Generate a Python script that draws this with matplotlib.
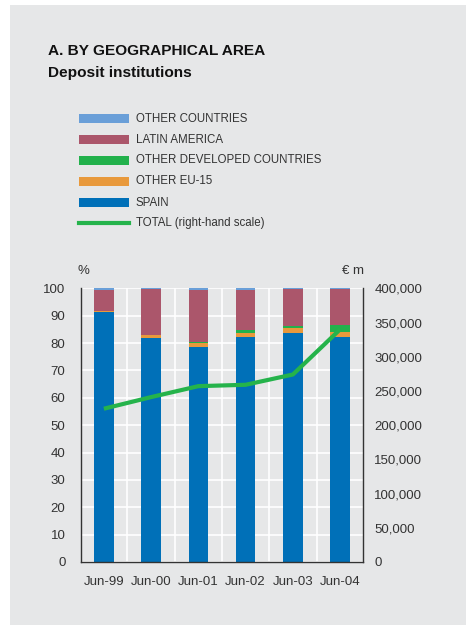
import matplotlib.pyplot as plt
from matplotlib.patches import Rectangle
from matplotlib.lines import Line2D
import numpy as np

plt.rcParams['font.family'] = ['Liberation Sans', 'DejaVu Sans']

periods = ['Jun-99', 'Jun-00', 'Jun-01', 'Jun-02', 'Jun-03', 'Jun-04']
spain = [91.3, 81.9, 78.5, 82.1, 83.6, 82.1]
other_eu15 = [0.4, 0.9, 1.4, 1.5, 1.8, 1.8]
other_developed = [0.1, 0.1, 0.5, 1.3, 1.0, 2.6]
latin_america = [7.6, 16.7, 18.9, 14.5, 13.2, 13.1]
other_countries = [0.6, 0.4, 0.7, 0.6, 0.4, 0.4]
total = [224000, 241000, 257000, 259000, 274000, 340000]

series = [
    ('SPAIN', spain, '#0070b8'),
    ('OTHER EU-15', other_eu15, '#e8993c'),
    ('OTHER DEVELOPED COUNTRIES', other_developed, '#22b14c'),
    ('LATIN AMERICA', latin_america, '#ab566b'),
    ('OTHER COUNTRIES', other_countries, '#6a9fd8'),
]
line_color = '#25b34b'
panel = '#e6e7e8'
text_color = '#333333'

W, H = 466, 625
fig = plt.figure(figsize=(W / 100, H / 100), dpi=100)
fig.patch.set_facecolor('white')
fig.add_artist(Rectangle((10 / W, 0), 1 - 10 / W, 1 - 5 / H, transform=fig.transFigure,
                         facecolor=panel, edgecolor='none', zorder=-10))


def fx(px):
    return px / W


def fy(py):
    return 1 - py / H


# titles
fig.text(fx(48), fy(55), 'A. BY GEOGRAPHICAL AREA', fontsize=11.1, fontweight='bold',
         color='#111111', va='baseline')
fig.text(fx(48), fy(77), 'Deposit institutions', fontsize=11.1, fontweight='bold',
         color='#111111', va='baseline')

# legend, drawn by hand
legend_rows = [('OTHER COUNTRIES', '#6a9fd8'), ('LATIN AMERICA', '#ab566b'),
               ('OTHER DEVELOPED COUNTRIES', '#22b14c'), ('OTHER EU-15', '#e8993c'),
               ('SPAIN', '#0070b8')]
row_y = [118.5, 139.5, 160.5, 181.5, 202.5, 223]
for (label, color), y in zip(legend_rows, row_y):
    fig.add_artist(Rectangle((fx(79), fy(y + 4.5)), 50 / W, 9 / H, transform=fig.transFigure,
                             facecolor=color, edgecolor='none'))
    fig.text(fx(136), fy(y), label, fontsize=8.3, color=text_color, va='center')
fig.add_artist(Line2D([fx(79), fx(129)], [fy(row_y[5]), fy(row_y[5])], transform=fig.transFigure,
                      color=line_color, linewidth=3))
fig.text(fx(136), fy(row_y[5]), 'TOTAL (right-hand scale)', fontsize=8.3, color=text_color, va='center')

ax = fig.add_axes([fx(80.7), fy(562), (363.3 - 80.7) / W, (562 - 288.3) / H])
ax.set_facecolor(panel)

x = np.arange(len(periods))
bottom = np.zeros(len(periods))
for label, vals, color in series:
    ax.bar(x, vals, width=0.41, bottom=bottom, color=color, label=label, zorder=2)
    bottom += np.array(vals)

ax.set_xlim(-0.49, 5.49)
ax.set_ylim(0, 100)
ax.set_yticks(range(0, 101, 10))
ax.set_xticks(x)
ax.set_xticklabels(periods)
ax.set_xticks(np.arange(0.5, 5, 1), minor=True)
ax.grid(True, axis='y', color='white', linewidth=1.2, zorder=0)
ax.grid(True, axis='x', which='minor', color='white', linewidth=1.2, zorder=0)
ax.set_axisbelow(True)
ax.tick_params(axis='both', which='both', length=0, labelsize=9.5, labelcolor=text_color)
ax.tick_params(axis='y', pad=11)
ax.tick_params(axis='x', pad=10)
for side in ['left', 'right', 'bottom']:
    ax.spines[side].set_color('#333333')
    ax.spines[side].set_linewidth(1)
ax.spines['top'].set_visible(False)

ax2 = ax.twinx()
ax2.plot(x, total, color=line_color, linewidth=3, solid_capstyle='butt', zorder=3)
ax2.set_ylim(0, 400000)
ax2.set_yticks(range(0, 400001, 50000))
ax2.set_yticklabels([f'{v:,}' for v in range(0, 400001, 50000)])
ax2.tick_params(axis='y', length=0, labelsize=9.5, labelcolor=text_color, pad=8)
for side in ax2.spines:
    ax2.spines[side].set_visible(False)

fig.text(fx(83), fy(271), '%', fontsize=9.5, color=text_color, ha='center', va='center')
fig.text(fx(353), fy(271), '€ m', fontsize=9.5, color=text_color, ha='center', va='center')

fig.savefig('out.png', dpi=100)
